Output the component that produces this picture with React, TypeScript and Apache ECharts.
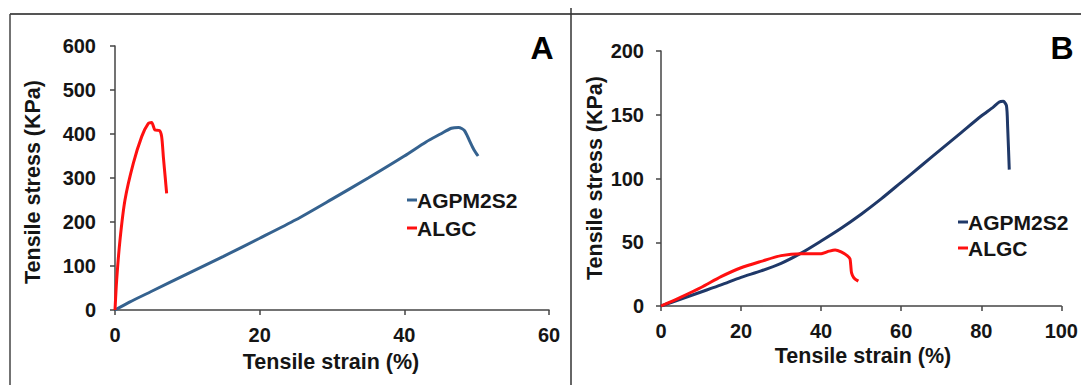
import React, { useEffect, useRef } from "react";
import * as echarts from "echarts";

// Panel A data
const strainA_AGPM = [0, 2, 5, 10, 15, 20, 25, 30, 35, 40, 43, 45, 46.5, 47.5, 48.3, 49, 49.6, 50.2];
const stressA_AGPM = [0, 18, 42, 82, 122, 163, 205, 252, 300, 350, 382, 400, 413, 415, 408, 385, 365, 350];
const strainA_ALGC = [0, 0.23, 0.69, 1.38, 2.53, 3.69, 4.61, 5.07, 5.53, 6.13, 6.45, 6.7, 6.95, 7.14];
const stressA_ALGC = [0, 68, 159, 250, 333, 394, 424, 426, 409, 408, 394, 345, 300, 265];

// Panel B data
const strainB_AGPM = [0, 5, 10, 15, 20, 25, 30, 35, 40, 45, 50, 55, 60, 65, 70, 75, 80, 83, 84.5, 85.5, 86.3, 86.6, 87];
const stressB_AGPM = [0, 5.5, 11, 16.5, 22.5, 27.5, 33.5, 41.5, 51, 61, 72, 84, 97, 110, 123, 136, 149, 156, 160, 160.5, 157, 140, 107];
const strainB_ALGC = [0, 5, 10, 15, 20, 25, 30, 35, 40, 42, 43.5, 45, 46.5, 47.2, 47.4, 47.6, 48.2, 49.3];
const stressB_ALGC = [0, 7, 14.5, 23, 30, 35, 39.5, 41, 41, 43, 44, 42.5, 39.5, 37, 32, 26, 22, 19.5];

const seriesNames = ["AGPM2S2", "ALGC"];
const xTitle = "Tensile strain (%)";
const yTitle = "Tensile stress (KPa)";
const panelLetters = ["A", "B"];

const zip = (xs: number[], ys: number[]) => xs.map((x, i) => [x, ys[i]]);

const FONT = "'Liberation Sans', Arial, sans-serif";
const TXT = "#151515";
const AXC = "#444444";

export default function App() {
  const ref = useRef<HTMLDivElement>(null);
  useEffect(() => {
    if (!ref.current) return;
    const chart = echarts.init(ref.current, null, { renderer: "svg" });
    const axisCommon = {
      type: "value" as const,
      splitLine: { show: false },
      axisLine: { show: true, lineStyle: { color: AXC, width: 1.5 } },
      axisTick: { show: true, length: 5, lineStyle: { color: AXC, width: 1.5 } },
      axisLabel: { color: TXT, fontSize: 20, fontWeight: "bold" as const, fontFamily: FONT },
    };
    const lineSeries = (name: string, data: number[][], color: string, idx: number) => ({
      type: "line" as const,
      name,
      data,
      xAxisIndex: idx,
      yAxisIndex: idx,
      showSymbol: false,
      smooth: 0.25,
      lineStyle: { color, width: 3 },
      itemStyle: { color },
    });
    const blueA = "#35628f";
    const blueB = "#1f3868";
    const red = "#ff1010";
    const legend = (x: number, y: number, gap: number, c1: string) => [
      { type: "rect", shape: { x, y: y - 1.5, width: 10, height: 3 }, style: { fill: c1 } },
      { type: "text", x: x + 10, y, style: { text: seriesNames[0], font: `bold 21px ${FONT}`, fill: TXT, textVerticalAlign: "middle" } },
      { type: "rect", shape: { x, y: y + gap - 1.5, width: 10, height: 3 }, style: { fill: red } },
      { type: "text", x: x + 10, y: y + gap, style: { text: seriesNames[1], font: `bold 21px ${FONT}`, fill: TXT, textVerticalAlign: "middle" } },
    ];
    chart.setOption({
      animation: false,
      grid: [
        { left: 115, right: 532, top: 46, bottom: 75 },
        { left: 661, right: 16, top: 51, bottom: 79 },
      ],
      xAxis: [
        { ...axisCommon, gridIndex: 0, min: 0, max: 60, interval: 20, axisLabel: { ...axisCommon.axisLabel, margin: 15 } },
        { ...axisCommon, gridIndex: 1, min: 0, max: 100, interval: 20, axisLabel: { ...axisCommon.axisLabel, margin: 15 } },
      ],
      yAxis: [
        { ...axisCommon, gridIndex: 0, min: 0, max: 600, interval: 100, axisLabel: { ...axisCommon.axisLabel, margin: 19 } },
        { ...axisCommon, gridIndex: 1, min: 0, max: 200, interval: 50, axisLabel: { ...axisCommon.axisLabel, margin: 17 } },
      ],
      series: [
        lineSeries(seriesNames[0], zip(strainA_AGPM, stressA_AGPM), blueA, 0),
        lineSeries(seriesNames[1], zip(strainA_ALGC, stressA_ALGC), red, 0),
        lineSeries(seriesNames[0], zip(strainB_AGPM, stressB_AGPM), blueB, 1),
        lineSeries(seriesNames[1], zip(strainB_ALGC, stressB_ALGC), red, 1),
      ],
      graphic: [
        { type: "line", shape: { x1: 10, y1: 14, x2: 1081, y2: 14 }, style: { stroke: "#555", lineWidth: 2 } },
        { type: "line", shape: { x1: 10, y1: 14, x2: 10, y2: 385 }, style: { stroke: "#444", lineWidth: 1.5 } },
        { type: "line", shape: { x1: 571, y1: 8, x2: 571, y2: 385 }, style: { stroke: "#333", lineWidth: 1.5 } },
        { type: "text", x: 542, y: 48, style: { text: panelLetters[0], font: `bold 32px ${FONT}`, fill: "#000", textAlign: "center", textVerticalAlign: "middle" } },
        { type: "text", x: 1062, y: 48, style: { text: panelLetters[1], font: `bold 32px ${FONT}`, fill: "#000", textAlign: "center", textVerticalAlign: "middle" } },
        { type: "text", x: 33, y: 182, rotation: Math.PI / 2, style: { text: yTitle, font: `bold 21.5px ${FONT}`, fill: TXT, textAlign: "center", textVerticalAlign: "middle" } },
        { type: "text", x: 595, y: 178, rotation: Math.PI / 2, style: { text: yTitle, font: `bold 21.5px ${FONT}`, fill: TXT, textAlign: "center", textVerticalAlign: "middle" } },
        { type: "text", x: 331, y: 362, style: { text: xTitle, font: `bold 21.5px ${FONT}`, fill: TXT, textAlign: "center", textVerticalAlign: "middle" } },
        { type: "text", x: 863, y: 356, style: { text: xTitle, font: `bold 21.5px ${FONT}`, fill: TXT, textAlign: "center", textVerticalAlign: "middle" } },
        ...legend(407, 200, 28, blueA),
        ...legend(958, 222, 26, blueB),
      ],
    });
    return () => chart.dispose();
  }, []);
  return (
    <div
      ref={ref}
      style={{ position: "fixed", left: 0, top: 0, width: 1081, height: 385, background: "#fff" }}
    />
  );
}
